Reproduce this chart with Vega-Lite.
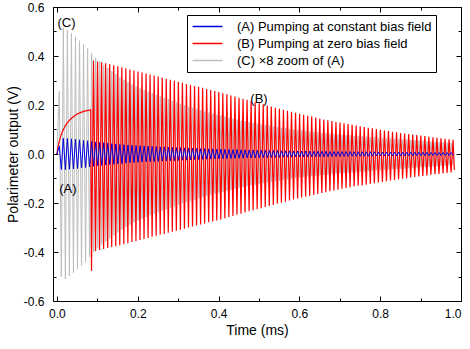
{
  "$schema": "https://vega.github.io/schema/vega-lite/v6.json",
  "width": 408,
  "height": 294,
  "autosize": {"type": "none"},
  "padding": {"left": 53, "top": 7, "right": 9, "bottom": 48},
  "config": {
    "font": "Liberation Sans",
    "view": {"stroke": "black", "strokeWidth": 1},
    "axis": {"grid": false, "domain": false, "labelColor": "black", "titleColor": "black", "tickColor": "black", "labelFont": "Liberation Sans", "titleFont": "Liberation Sans", "titleFontWeight": "normal", "tickWidth": 1},
    "legend": {"labelFont": "Liberation Sans"}
  },
  "datasets": {
    "C": [
      {"t":0,"v":0},{"t":0.0058,"v":0.255},{"t":0.0108,"v":-0.5},{"t":0.0158,"v":0.515},{"t":0.0208,"v":-0.51},{"t":0.0258,"v":0.505},{"t":0.0308,"v":-0.498},{"t":0.0358,"v":0.492},{"t":0.0408,"v":-0.485},{"t":0.0458,"v":0.478},
      {"t":0.0508,"v":-0.47},{"t":0.0558,"v":0.462},{"t":0.0608,"v":-0.455},{"t":0.0658,"v":0.447},{"t":0.0708,"v":-0.44},{"t":0.0758,"v":0.43},{"t":0.0808,"v":-0.42},{"t":0.0858,"v":0.41},{"t":0.0908,"v":-0.4},{"t":0.0958,"v":0.392},
      {"t":0.1008,"v":-0.384},{"t":0.1058,"v":0.377},{"t":0.1108,"v":-0.37},{"t":0.1158,"v":0.364},{"t":0.1208,"v":-0.357},{"t":0.1258,"v":0.351},{"t":0.1308,"v":-0.345},{"t":0.1358,"v":0.338},{"t":0.1408,"v":-0.332},{"t":0.1458,"v":0.326},
      {"t":0.1508,"v":-0.32},{"t":0.1558,"v":0.314},{"t":0.1608,"v":-0.308},{"t":0.1658,"v":0.303},{"t":0.1708,"v":-0.298},{"t":0.1758,"v":0.293},{"t":0.1808,"v":-0.288},{"t":0.1858,"v":0.284},{"t":0.1908,"v":-0.279},{"t":0.1958,"v":0.275},
      {"t":0.2008,"v":-0.271},{"t":0.2058,"v":0.268},{"t":0.2108,"v":-0.264},{"t":0.2158,"v":0.261},{"t":0.2208,"v":-0.257},{"t":0.2258,"v":0.254},{"t":0.2308,"v":-0.25},{"t":0.2358,"v":0.247},{"t":0.2408,"v":-0.244},{"t":0.2458,"v":0.241},
      {"t":0.2508,"v":-0.238},{"t":0.2558,"v":0.235},{"t":0.2608,"v":-0.232},{"t":0.2658,"v":0.229},{"t":0.2708,"v":-0.226},{"t":0.2758,"v":0.223},{"t":0.2808,"v":-0.219},{"t":0.2858,"v":0.216},{"t":0.2908,"v":-0.213},{"t":0.2958,"v":0.21},
      {"t":0.3008,"v":-0.207},{"t":0.3058,"v":0.204},{"t":0.3108,"v":-0.201},{"t":0.3158,"v":0.199},{"t":0.3208,"v":-0.196},{"t":0.3258,"v":0.193},{"t":0.3308,"v":-0.191},{"t":0.3358,"v":0.188},{"t":0.3408,"v":-0.186},{"t":0.3458,"v":0.183},
      {"t":0.3508,"v":-0.18},{"t":0.3558,"v":0.178},{"t":0.3608,"v":-0.176},{"t":0.3658,"v":0.173},{"t":0.3708,"v":-0.171},{"t":0.3758,"v":0.169},{"t":0.3808,"v":-0.167},{"t":0.3858,"v":0.164},{"t":0.3908,"v":-0.162},{"t":0.3958,"v":0.16},
      {"t":0.4008,"v":-0.158},{"t":0.4058,"v":0.156},{"t":0.4108,"v":-0.154},{"t":0.4158,"v":0.152},{"t":0.4208,"v":-0.15},{"t":0.4258,"v":0.148},{"t":0.4308,"v":-0.146},{"t":0.4358,"v":0.144},{"t":0.4408,"v":-0.142},{"t":0.4458,"v":0.14},
      {"t":0.4508,"v":-0.138},{"t":0.4558,"v":0.136},{"t":0.4608,"v":-0.135},{"t":0.4658,"v":0.133},{"t":0.4708,"v":-0.131},{"t":0.4758,"v":0.13},{"t":0.4808,"v":-0.128},{"t":0.4858,"v":0.126},{"t":0.4908,"v":-0.125},{"t":0.4958,"v":0.123},
      {"t":0.5008,"v":-0.122},{"t":0.5058,"v":0.12},{"t":0.5108,"v":-0.119},{"t":0.5158,"v":0.117},{"t":0.5208,"v":-0.116},{"t":0.5258,"v":0.115},{"t":0.5308,"v":-0.113},{"t":0.5358,"v":0.112},{"t":0.5408,"v":-0.111},{"t":0.5458,"v":0.109},
      {"t":0.5508,"v":-0.108},{"t":0.5558,"v":0.107},{"t":0.5608,"v":-0.105},{"t":0.5658,"v":0.104},{"t":0.5708,"v":-0.103},{"t":0.5758,"v":0.102},{"t":0.5808,"v":-0.1},{"t":0.5858,"v":0.099},{"t":0.5908,"v":-0.098},{"t":0.5958,"v":0.097},
      {"t":0.6008,"v":-0.096},{"t":0.6058,"v":0.095},{"t":0.6108,"v":-0.094},{"t":0.6158,"v":0.093},{"t":0.6208,"v":-0.092},{"t":0.6258,"v":0.091},{"t":0.6308,"v":-0.09},{"t":0.6358,"v":0.09},{"t":0.6408,"v":-0.089},{"t":0.6458,"v":0.088},
      {"t":0.6508,"v":-0.087},{"t":0.6558,"v":0.086},{"t":0.6608,"v":-0.085},{"t":0.6658,"v":0.085},{"t":0.6708,"v":-0.084},{"t":0.6758,"v":0.083},{"t":0.6808,"v":-0.082},{"t":0.6858,"v":0.081},{"t":0.6908,"v":-0.081},{"t":0.6958,"v":0.08},
      {"t":0.7008,"v":-0.079},{"t":0.7058,"v":0.078},{"t":0.7108,"v":-0.078},{"t":0.7158,"v":0.077},{"t":0.7208,"v":-0.076},{"t":0.7258,"v":0.076},{"t":0.7308,"v":-0.075},{"t":0.7358,"v":0.074},{"t":0.7408,"v":-0.074},{"t":0.7458,"v":0.073},
      {"t":0.7508,"v":-0.072},{"t":0.7558,"v":0.072},{"t":0.7608,"v":-0.071},{"t":0.7658,"v":0.07},{"t":0.7708,"v":-0.07},{"t":0.7758,"v":0.069},{"t":0.7808,"v":-0.068},{"t":0.7858,"v":0.068},{"t":0.7908,"v":-0.067},{"t":0.7958,"v":0.066},
      {"t":0.8008,"v":-0.066},{"t":0.8058,"v":0.065},{"t":0.8108,"v":-0.065},{"t":0.8158,"v":0.064},{"t":0.8208,"v":-0.063},{"t":0.8258,"v":0.063},{"t":0.8308,"v":-0.062},{"t":0.8358,"v":0.062},{"t":0.8408,"v":-0.061},{"t":0.8458,"v":0.061},
      {"t":0.8508,"v":-0.06},{"t":0.8558,"v":0.059},{"t":0.8608,"v":-0.059},{"t":0.8658,"v":0.058},{"t":0.8708,"v":-0.058},{"t":0.8758,"v":0.057},{"t":0.8808,"v":-0.056},{"t":0.8858,"v":0.056},{"t":0.8908,"v":-0.055},{"t":0.8958,"v":0.055},
      {"t":0.9008,"v":-0.054},{"t":0.9058,"v":0.054},{"t":0.9108,"v":-0.053},{"t":0.9158,"v":0.052},{"t":0.9208,"v":-0.052},{"t":0.9258,"v":0.051},{"t":0.9308,"v":-0.051},{"t":0.9358,"v":0.05},{"t":0.9408,"v":-0.05},{"t":0.9458,"v":0.049},
      {"t":0.9508,"v":-0.049},{"t":0.9558,"v":0.048},{"t":0.9608,"v":-0.048},{"t":0.9658,"v":0.047},{"t":0.9708,"v":-0.047},{"t":0.9758,"v":0.046},{"t":0.9808,"v":-0.046}
    ],
    "A": [
      {"t":0,"v":0},{"t":0.0058,"v":0.032},{"t":0.0108,"v":-0.063},{"t":0.0158,"v":0.064},{"t":0.0208,"v":-0.064},{"t":0.0258,"v":0.063},{"t":0.0308,"v":-0.062},{"t":0.0358,"v":0.062},{"t":0.0408,"v":-0.061},{"t":0.0458,"v":0.06},
      {"t":0.0508,"v":-0.059},{"t":0.0558,"v":0.058},{"t":0.0608,"v":-0.057},{"t":0.0658,"v":0.056},{"t":0.0708,"v":-0.055},{"t":0.0758,"v":0.054},{"t":0.0808,"v":-0.053},{"t":0.0858,"v":0.051},{"t":0.0908,"v":-0.05},{"t":0.0958,"v":0.049},
      {"t":0.1008,"v":-0.048},{"t":0.1058,"v":0.047},{"t":0.1108,"v":-0.046},{"t":0.1158,"v":0.046},{"t":0.1208,"v":-0.045},{"t":0.1258,"v":0.044},{"t":0.1308,"v":-0.043},{"t":0.1358,"v":0.042},{"t":0.1408,"v":-0.042},{"t":0.1458,"v":0.041},
      {"t":0.1508,"v":-0.04},{"t":0.1558,"v":0.039},{"t":0.1608,"v":-0.039},{"t":0.1658,"v":0.038},{"t":0.1708,"v":-0.037},{"t":0.1758,"v":0.037},{"t":0.1808,"v":-0.036},{"t":0.1858,"v":0.036},{"t":0.1908,"v":-0.035},{"t":0.1958,"v":0.034},
      {"t":0.2008,"v":-0.034},{"t":0.2058,"v":0.034},{"t":0.2108,"v":-0.033},{"t":0.2158,"v":0.033},{"t":0.2208,"v":-0.032},{"t":0.2258,"v":0.032},{"t":0.2308,"v":-0.031},{"t":0.2358,"v":0.031},{"t":0.2408,"v":-0.031},{"t":0.2458,"v":0.03},
      {"t":0.2508,"v":-0.03},{"t":0.2558,"v":0.029},{"t":0.2608,"v":-0.029},{"t":0.2658,"v":0.029},{"t":0.2708,"v":-0.028},{"t":0.2758,"v":0.028},{"t":0.2808,"v":-0.027},{"t":0.2858,"v":0.027},{"t":0.2908,"v":-0.027},{"t":0.2958,"v":0.026},
      {"t":0.3008,"v":-0.026},{"t":0.3058,"v":0.026},{"t":0.3108,"v":-0.025},{"t":0.3158,"v":0.025},{"t":0.3208,"v":-0.025},{"t":0.3258,"v":0.024},{"t":0.3308,"v":-0.024},{"t":0.3358,"v":0.024},{"t":0.3408,"v":-0.023},{"t":0.3458,"v":0.023},
      {"t":0.3508,"v":-0.023},{"t":0.3558,"v":0.022},{"t":0.3608,"v":-0.022},{"t":0.3658,"v":0.022},{"t":0.3708,"v":-0.021},{"t":0.3758,"v":0.021},{"t":0.3808,"v":-0.021},{"t":0.3858,"v":0.021},{"t":0.3908,"v":-0.02},{"t":0.3958,"v":0.02},
      {"t":0.4008,"v":-0.02},{"t":0.4058,"v":0.02},{"t":0.4108,"v":-0.019},{"t":0.4158,"v":0.019},{"t":0.4208,"v":-0.019},{"t":0.4258,"v":0.019},{"t":0.4308,"v":-0.018},{"t":0.4358,"v":0.018},{"t":0.4408,"v":-0.018},{"t":0.4458,"v":0.018},
      {"t":0.4508,"v":-0.017},{"t":0.4558,"v":0.017},{"t":0.4608,"v":-0.017},{"t":0.4658,"v":0.017},{"t":0.4708,"v":-0.016},{"t":0.4758,"v":0.016},{"t":0.4808,"v":-0.016},{"t":0.4858,"v":0.016},{"t":0.4908,"v":-0.016},{"t":0.4958,"v":0.015},
      {"t":0.5008,"v":-0.015},{"t":0.5058,"v":0.015},{"t":0.5108,"v":-0.015},{"t":0.5158,"v":0.015},{"t":0.5208,"v":-0.015},{"t":0.5258,"v":0.014},{"t":0.5308,"v":-0.014},{"t":0.5358,"v":0.014},{"t":0.5408,"v":-0.014},{"t":0.5458,"v":0.014},
      {"t":0.5508,"v":-0.014},{"t":0.5558,"v":0.013},{"t":0.5608,"v":-0.013},{"t":0.5658,"v":0.013},{"t":0.5708,"v":-0.013},{"t":0.5758,"v":0.013},{"t":0.5808,"v":-0.013},{"t":0.5858,"v":0.012},{"t":0.5908,"v":-0.012},{"t":0.5958,"v":0.012},
      {"t":0.6008,"v":-0.012},{"t":0.6058,"v":0.012},{"t":0.6108,"v":-0.012},{"t":0.6158,"v":0.012},{"t":0.6208,"v":-0.012},{"t":0.6258,"v":0.011},{"t":0.6308,"v":-0.011},{"t":0.6358,"v":0.011},{"t":0.6408,"v":-0.011},{"t":0.6458,"v":0.011},
      {"t":0.6508,"v":-0.011},{"t":0.6558,"v":0.011},{"t":0.6608,"v":-0.011},{"t":0.6658,"v":0.011},{"t":0.6708,"v":-0.011},{"t":0.6758,"v":0.01},{"t":0.6808,"v":-0.01},{"t":0.6858,"v":0.01},{"t":0.6908,"v":-0.01},{"t":0.6958,"v":0.01},
      {"t":0.7008,"v":-0.01},{"t":0.7058,"v":0.01},{"t":0.7108,"v":-0.01},{"t":0.7158,"v":0.01},{"t":0.7208,"v":-0.01},{"t":0.7258,"v":0.01},{"t":0.7308,"v":-0.009},{"t":0.7358,"v":0.009},{"t":0.7408,"v":-0.009},{"t":0.7458,"v":0.009},
      {"t":0.7508,"v":-0.009},{"t":0.7558,"v":0.009},{"t":0.7608,"v":-0.009},{"t":0.7658,"v":0.009},{"t":0.7708,"v":-0.009},{"t":0.7758,"v":0.009},{"t":0.7808,"v":-0.009},{"t":0.7858,"v":0.009},{"t":0.7908,"v":-0.008},{"t":0.7958,"v":0.008},
      {"t":0.8008,"v":-0.008},{"t":0.8058,"v":0.008},{"t":0.8108,"v":-0.008},{"t":0.8158,"v":0.008},{"t":0.8208,"v":-0.008},{"t":0.8258,"v":0.008},{"t":0.8308,"v":-0.008},{"t":0.8358,"v":0.008},{"t":0.8408,"v":-0.008},{"t":0.8458,"v":0.008},
      {"t":0.8508,"v":-0.008},{"t":0.8558,"v":0.007},{"t":0.8608,"v":-0.007},{"t":0.8658,"v":0.007},{"t":0.8708,"v":-0.007},{"t":0.8758,"v":0.007},{"t":0.8808,"v":-0.007},{"t":0.8858,"v":0.007},{"t":0.8908,"v":-0.007},{"t":0.8958,"v":0.007},
      {"t":0.9008,"v":-0.007},{"t":0.9058,"v":0.007},{"t":0.9108,"v":-0.007},{"t":0.9158,"v":0.007},{"t":0.9208,"v":-0.007},{"t":0.9258,"v":0.006},{"t":0.9308,"v":-0.006},{"t":0.9358,"v":0.006},{"t":0.9408,"v":-0.006},{"t":0.9458,"v":0.006},
      {"t":0.9508,"v":-0.006},{"t":0.9558,"v":0.006},{"t":0.9608,"v":-0.006},{"t":0.9658,"v":0.006},{"t":0.9708,"v":-0.006},{"t":0.9758,"v":0.006},{"t":0.9808,"v":-0.006}
    ],
    "B": [
      {"t":0,"v":0},{"t":0.004,"v":0.04},{"t":0.008,"v":0.066},{"t":0.012,"v":0.086},{"t":0.016,"v":0.1},{"t":0.02,"v":0.113},{"t":0.025,"v":0.126},{"t":0.03,"v":0.136},{"t":0.036,"v":0.146},{"t":0.043,"v":0.155},
      {"t":0.05,"v":0.163},{"t":0.058,"v":0.169},{"t":0.066,"v":0.174},{"t":0.074,"v":0.177},{"t":0.0835,"v":0.18},{"t":0.0855,"v":-0.478},
      {"t":0.0905,"v":0.382},{"t":0.0955,"v":-0.396},{"t":0.1005,"v":0.378},{"t":0.1055,"v":-0.392},{"t":0.1105,"v":0.374},{"t":0.1155,"v":-0.388},{"t":0.1205,"v":0.37},{"t":0.1255,"v":-0.384},{"t":0.1305,"v":0.366},{"t":0.1355,"v":-0.38},
      {"t":0.1405,"v":0.362},{"t":0.1455,"v":-0.376},{"t":0.1505,"v":0.358},{"t":0.1555,"v":-0.372},{"t":0.1605,"v":0.354},{"t":0.1655,"v":-0.368},{"t":0.1705,"v":0.35},{"t":0.1755,"v":-0.364},{"t":0.1805,"v":0.345},{"t":0.1855,"v":-0.359},
      {"t":0.1905,"v":0.341},{"t":0.1955,"v":-0.355},{"t":0.2005,"v":0.337},{"t":0.2055,"v":-0.351},{"t":0.2105,"v":0.333},{"t":0.2155,"v":-0.347},{"t":0.2205,"v":0.329},{"t":0.2255,"v":-0.343},{"t":0.2305,"v":0.324},{"t":0.2355,"v":-0.338},
      {"t":0.2405,"v":0.32},{"t":0.2455,"v":-0.334},{"t":0.2505,"v":0.316},{"t":0.2555,"v":-0.33},{"t":0.2605,"v":0.312},{"t":0.2655,"v":-0.326},{"t":0.2705,"v":0.307},{"t":0.2755,"v":-0.321},{"t":0.2805,"v":0.303},{"t":0.2855,"v":-0.317},
      {"t":0.2905,"v":0.299},{"t":0.2955,"v":-0.313},{"t":0.3005,"v":0.295},{"t":0.3055,"v":-0.309},{"t":0.3105,"v":0.291},{"t":0.3155,"v":-0.305},{"t":0.3205,"v":0.286},{"t":0.3255,"v":-0.3},{"t":0.3305,"v":0.282},{"t":0.3355,"v":-0.296},
      {"t":0.3405,"v":0.278},{"t":0.3455,"v":-0.292},{"t":0.3505,"v":0.274},{"t":0.3555,"v":-0.288},{"t":0.3605,"v":0.27},{"t":0.3655,"v":-0.284},{"t":0.3705,"v":0.265},{"t":0.3755,"v":-0.279},{"t":0.3805,"v":0.261},{"t":0.3855,"v":-0.275},
      {"t":0.3905,"v":0.257},{"t":0.3955,"v":-0.271},{"t":0.4005,"v":0.253},{"t":0.4055,"v":-0.267},{"t":0.4105,"v":0.248},{"t":0.4155,"v":-0.262},{"t":0.4205,"v":0.244},{"t":0.4255,"v":-0.257},{"t":0.4305,"v":0.239},{"t":0.4355,"v":-0.253},
      {"t":0.4405,"v":0.235},{"t":0.4455,"v":-0.248},{"t":0.4505,"v":0.23},{"t":0.4555,"v":-0.244},{"t":0.4605,"v":0.225},{"t":0.4655,"v":-0.239},{"t":0.4705,"v":0.221},{"t":0.4755,"v":-0.234},{"t":0.4805,"v":0.216},{"t":0.4855,"v":-0.23},
      {"t":0.4905,"v":0.211},{"t":0.4955,"v":-0.225},{"t":0.5005,"v":0.207},{"t":0.5055,"v":-0.221},{"t":0.5105,"v":0.203},{"t":0.5155,"v":-0.216},{"t":0.5205,"v":0.198},{"t":0.5255,"v":-0.212},{"t":0.5305,"v":0.194},{"t":0.5355,"v":-0.208},
      {"t":0.5405,"v":0.189},{"t":0.5455,"v":-0.203},{"t":0.5505,"v":0.185},{"t":0.5555,"v":-0.199},{"t":0.5605,"v":0.181},{"t":0.5655,"v":-0.195},{"t":0.5705,"v":0.176},{"t":0.5755,"v":-0.19},{"t":0.5805,"v":0.172},{"t":0.5855,"v":-0.186},
      {"t":0.5905,"v":0.168},{"t":0.5955,"v":-0.182},{"t":0.6005,"v":0.164},{"t":0.6055,"v":-0.178},{"t":0.6105,"v":0.16},{"t":0.6155,"v":-0.174},{"t":0.6205,"v":0.156},{"t":0.6255,"v":-0.171},{"t":0.6305,"v":0.153},{"t":0.6355,"v":-0.167},
      {"t":0.6405,"v":0.149},{"t":0.6455,"v":-0.163},{"t":0.6505,"v":0.145},{"t":0.6555,"v":-0.159},{"t":0.6605,"v":0.141},{"t":0.6655,"v":-0.156},{"t":0.6705,"v":0.138},{"t":0.6755,"v":-0.152},{"t":0.6805,"v":0.135},{"t":0.6855,"v":-0.149},
      {"t":0.6905,"v":0.131},{"t":0.6955,"v":-0.146},{"t":0.7005,"v":0.128},{"t":0.7055,"v":-0.142},{"t":0.7105,"v":0.125},{"t":0.7155,"v":-0.139},{"t":0.7205,"v":0.122},{"t":0.7255,"v":-0.136},{"t":0.7305,"v":0.119},{"t":0.7355,"v":-0.133},
      {"t":0.7405,"v":0.116},{"t":0.7455,"v":-0.13},{"t":0.7505,"v":0.113},{"t":0.7555,"v":-0.128},{"t":0.7605,"v":0.11},{"t":0.7655,"v":-0.125},{"t":0.7705,"v":0.107},{"t":0.7755,"v":-0.122},{"t":0.7805,"v":0.105},{"t":0.7855,"v":-0.119},
      {"t":0.7905,"v":0.102},{"t":0.7955,"v":-0.116},{"t":0.8005,"v":0.099},{"t":0.8055,"v":-0.114},{"t":0.8105,"v":0.096},{"t":0.8155,"v":-0.111},{"t":0.8205,"v":0.094},{"t":0.8255,"v":-0.108},{"t":0.8305,"v":0.091},{"t":0.8355,"v":-0.106},
      {"t":0.8405,"v":0.089},{"t":0.8455,"v":-0.103},{"t":0.8505,"v":0.086},{"t":0.8555,"v":-0.101},{"t":0.8605,"v":0.084},{"t":0.8655,"v":-0.099},{"t":0.8705,"v":0.082},{"t":0.8755,"v":-0.096},{"t":0.8805,"v":0.079},{"t":0.8855,"v":-0.094},
      {"t":0.8905,"v":0.077},{"t":0.8955,"v":-0.092},{"t":0.9005,"v":0.075},{"t":0.9055,"v":-0.09},{"t":0.9105,"v":0.073},{"t":0.9155,"v":-0.088},{"t":0.9205,"v":0.07},{"t":0.9255,"v":-0.085},{"t":0.9305,"v":0.068},{"t":0.9355,"v":-0.083},
      {"t":0.9405,"v":0.066},{"t":0.9455,"v":-0.081},{"t":0.9505,"v":0.064},{"t":0.9555,"v":-0.079},{"t":0.9605,"v":0.062},{"t":0.9655,"v":-0.077},{"t":0.9705,"v":0.06},{"t":0.9755,"v":-0.075},{"t":0.9805,"v":0.058},{"t":0.9835,"v":-0.065}
    ],
    "labels1": [
      {"t":0.0235,"v":0.535,"label":"(C)"},
      {"t":0.027,"v":-0.143,"label":"(A)"}
    ],
    "labels2": [
      {"t":0.5,"v":0.224,"label":"(B)"}
    ]
  },
  "layer": [
    {
      "data": {"name": "C"},
      "mark": {"type": "line", "strokeWidth": 1},
      "encoding": {
        "x": {"field": "t", "type": "quantitative", "scale": {"domain": [-0.0098, 1.0], "nice": false, "zero": false},
              "axis": {"orient": "bottom", "values": [0, 0.2, 0.4, 0.6, 0.8, 1.0], "format": ".1f", "ticks": false, "labelPadding": 7, "labelFontSize": 12, "title": "Time (ms)", "titleFontSize": 14, "titlePadding": 4}},
        "y": {"field": "v", "type": "quantitative", "scale": {"domain": [-0.6, 0.6], "nice": false, "zero": false},
              "axis": {"orient": "left", "values": [-0.6, -0.4, -0.2, 0, 0.2, 0.4, 0.6], "labelExpr": "replace(format(datum.value, '.1f'), '\u2212', '-')", "ticks": false, "labelPadding": 9, "labelFontSize": 12, "title": "Polarimeter output (V)", "titleFontSize": 14, "titlePadding": 3}},
        "color": {"datum": "(C) ×8 zoom of (A)", "type": "nominal",
                  "scale": {"domain": ["(A) Pumping at constant bias field", "(B) Pumping at zero bias field", "(C) ×8 zoom of (A)"], "range": ["#0000dd", "#ff0000", "#bdbdbd"]},
                  "legend": {"orient": "none", "legendX": 134, "legendY": 8, "title": null, "symbolType": "M-2.3,0H2.3", "symbolSize": 169, "symbolOffset": 9, "symbolStrokeWidth": 1.5, "labelFontSize": 13, "labelLimit": 320, "labelColor": "black", "labelOffset": 22, "strokeColor": "black", "fillColor": "white", "padding": 4, "rowPadding": 2}}
      }
    },
    {
      "data": {"name": "B"},
      "mark": {"type": "line", "strokeWidth": 1.2},
      "encoding": {
        "x": {"field": "t", "type": "quantitative", "axis": {"orient": "top", "values": [0, 0.2, 0.4, 0.6, 0.8, 1.0], "labels": false, "tickSize": -5, "title": null}},
        "y": {"field": "v", "type": "quantitative", "axis": {"orient": "right", "values": [-0.6, -0.4, -0.2, 0, 0.2, 0.4, 0.6], "labels": false, "tickSize": -5, "title": null}},
        "color": {"datum": "(B) Pumping at zero bias field", "type": "nominal"}
      }
    },
    {
      "data": {"name": "A"},
      "mark": {"type": "line", "strokeWidth": 1},
      "encoding": {
        "x": {"field": "t", "type": "quantitative", "axis": {"orient": "bottom", "values": [0, 0.2, 0.4, 0.6, 0.8, 1.0], "labels": false, "tickSize": -5, "title": null}},
        "y": {"field": "v", "type": "quantitative", "axis": {"orient": "left", "values": [-0.6, -0.4, -0.2, 0, 0.2, 0.4, 0.6], "labels": false, "tickSize": -5, "title": null}},
        "color": {"datum": "(A) Pumping at constant bias field", "type": "nominal"}
      }
    },
    {
      "data": {"name": "labels1"},
      "mark": {"type": "text", "fontSize": 13, "color": "black", "align": "center", "baseline": "middle"},
      "encoding": {
        "x": {"field": "t", "type": "quantitative", "axis": {"orient": "bottom", "values": [0.1, 0.3, 0.5, 0.7, 0.9], "labels": false, "tickSize": -3, "title": null}},
        "y": {"field": "v", "type": "quantitative", "axis": {"orient": "left", "values": [-0.5, -0.3, -0.1, 0.1, 0.3, 0.5], "labels": false, "tickSize": -3, "title": null}},
        "text": {"field": "label"}
      }
    },
    {
      "data": {"name": "labels2"},
      "mark": {"type": "text", "fontSize": 13, "color": "black", "align": "center", "baseline": "middle"},
      "encoding": {
        "x": {"field": "t", "type": "quantitative", "axis": {"orient": "top", "values": [0.1, 0.3, 0.5, 0.7, 0.9], "labels": false, "tickSize": -3, "title": null}},
        "y": {"field": "v", "type": "quantitative", "axis": {"orient": "right", "values": [-0.5, -0.3, -0.1, 0.1, 0.3, 0.5], "labels": false, "tickSize": -3, "title": null}},
        "text": {"field": "label"}
      }
    }
  ],
  "resolve": {"axis": {"x": "independent", "y": "independent"}}
}
